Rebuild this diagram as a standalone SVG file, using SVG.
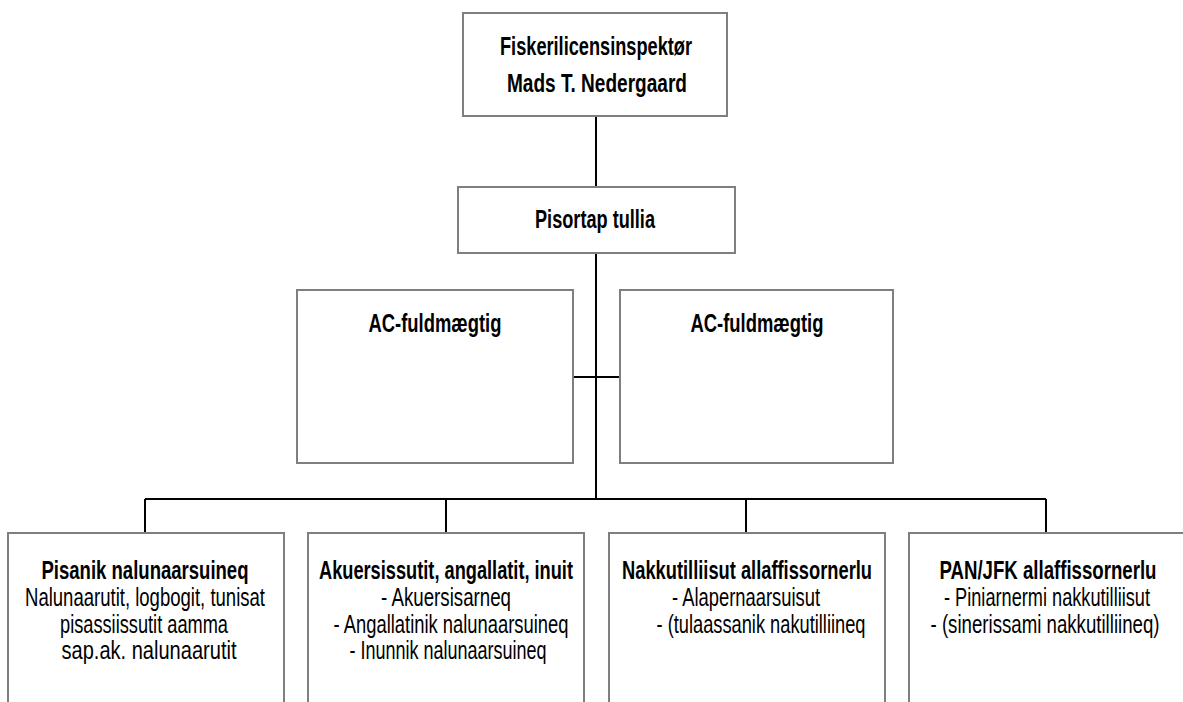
<svg xmlns="http://www.w3.org/2000/svg" width="1183" height="702" viewBox="0 0 1183 702">
<style>
.box{fill:#fff;stroke:#7f7f7f;stroke-width:2}
.ln{stroke:#000;stroke-width:2;fill:none}
text{font-family:"Liberation Sans",Arial,sans-serif;font-size:25px;fill:#000;text-anchor:middle}
.b{font-weight:bold}
</style>
<rect width="1183" height="702" fill="#fff"/>
<g id="connectors">
<line class="ln" x1="596" y1="116" x2="596" y2="187"/>
<line class="ln" x1="596" y1="253" x2="596" y2="499"/>
<line class="ln" x1="573" y1="377" x2="620" y2="377"/>
<line class="ln" x1="145" y1="499" x2="1046" y2="499"/>
<line class="ln" x1="145" y1="499" x2="145" y2="533"/>
<line class="ln" x1="446" y1="499" x2="446" y2="533"/>
<line class="ln" x1="746" y1="499" x2="746" y2="533"/>
<line class="ln" x1="1046" y1="499" x2="1046" y2="533"/>
</g>
<g id="top">
<rect class="box" x="463" y="13" width="264" height="103"/>
<text class="b" x="596" y="55" textLength="192" lengthAdjust="spacingAndGlyphs">Fiskerilicensinspektør</text>
<text class="b" x="597" y="92" textLength="180" lengthAdjust="spacingAndGlyphs">Mads T. Nedergaard</text>
</g>
<g id="tullia">
<rect class="box" x="458" y="187" width="277" height="66"/>
<text class="b" x="595" y="228" textLength="120" lengthAdjust="spacingAndGlyphs">Pisortap tullia</text>
</g>
<g id="ac1">
<rect class="box" x="297" y="290" width="276" height="173"/>
<text class="b" x="435" y="332" textLength="133" lengthAdjust="spacingAndGlyphs">AC-fuldmægtig</text>
</g>
<g id="ac2">
<rect class="box" x="620" y="290" width="273" height="173"/>
<text class="b" x="757" y="332" textLength="133" lengthAdjust="spacingAndGlyphs">AC-fuldmægtig</text>
</g>
<g id="b1">
<rect class="box" x="8" y="533" width="276" height="180"/>
<text class="b" x="145" y="579" textLength="207" lengthAdjust="spacingAndGlyphs">Pisanik nalunaarsuineq</text>
<text x="145" y="606" textLength="240" lengthAdjust="spacingAndGlyphs">Nalunaarutit, logbogit, tunisat</text>
<text x="144" y="633" textLength="168" lengthAdjust="spacingAndGlyphs">pisassiissutit aamma</text>
<text x="149" y="659" textLength="175" lengthAdjust="spacingAndGlyphs">sap.ak. nalunaarutit</text>
</g>
<g id="b2">
<rect class="box" x="308" y="533" width="276" height="180"/>
<text class="b" x="446" y="579" textLength="254" lengthAdjust="spacingAndGlyphs">Akuersissutit, angallatit, inuit</text>
<text x="446" y="606" textLength="130" lengthAdjust="spacingAndGlyphs">- Akuersisarneq</text>
<text x="451" y="633" textLength="235" lengthAdjust="spacingAndGlyphs">- Angallatinik nalunaarsuineq</text>
<text x="448" y="659" textLength="197" lengthAdjust="spacingAndGlyphs">- Inunnik nalunaarsuineq</text>
</g>
<g id="b3">
<rect class="box" x="609" y="533" width="276" height="180"/>
<text class="b" x="747" y="579" textLength="250" lengthAdjust="spacingAndGlyphs">Nakkutilliisut allaffissornerlu</text>
<text x="746" y="606" textLength="148" lengthAdjust="spacingAndGlyphs">- Alapernaarsuisut</text>
<text x="761" y="633" textLength="209" lengthAdjust="spacingAndGlyphs">- (tulaassanik nakutilliineq</text>
</g>
<g id="b4">
<rect class="box" x="909" y="533" width="280" height="180"/>
<text class="b" x="1048" y="579" textLength="217" lengthAdjust="spacingAndGlyphs">PAN/JFK allaffissornerlu</text>
<text x="1047" y="606" textLength="206" lengthAdjust="spacingAndGlyphs">- Piniarnermi nakkutilliisut</text>
<text x="1045" y="633" textLength="229" lengthAdjust="spacingAndGlyphs">- (sinerissami nakkutilliineq)</text>
</g>
</svg>
